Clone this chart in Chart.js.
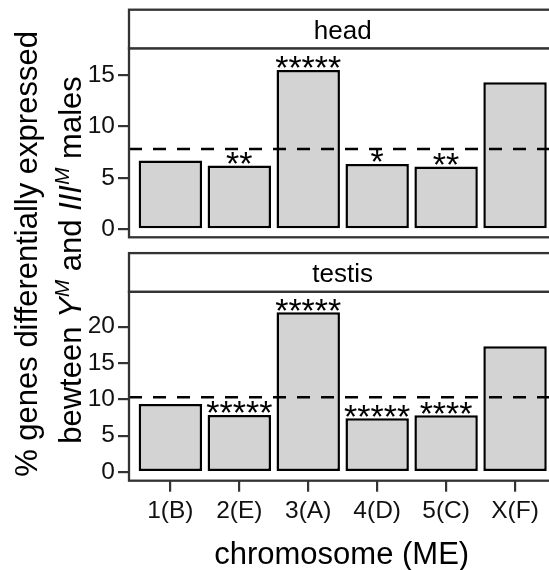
<!DOCTYPE html>
<html><head><meta charset="utf-8">
<script src="https://cdn.jsdelivr.net/npm/chart.js@4"></script>
<style>
html,body{margin:0;padding:0;overflow:hidden;background:#fff;width:549px;height:570px}
canvas{position:absolute;left:0;top:0}
</style></head><body>
<canvas id="head" width="570" height="570"></canvas>
<canvas id="testis" width="570" height="570"></canvas>
<script>
const categories = ['1(B)', '2(E)', '3(A)', '4(D)', '5(C)', 'X(F)'];
const headValues = [6.7, 6.2, 15.5, 6.35, 6.1, 14.3];
const testisValues = [9.35, 7.85, 22.0, 7.4, 7.8, 17.3];
const headStars = ['', '**', '*****', '*', '**', ''];
const testisStars = ['', '*****', '*****', '*****', '****', ''];
const headMean = 7.8;
const testisMean = 10.3;
const headTicks = [0, 5, 10, 15];
const testisTicks = [0, 5, 10, 15, 20];
const panelNames = ['head', 'testis'];
const xTitle = 'chromosome (ME)';
const yTitleLine1 = '% genes differentially expressed';
const yTitleLine2 = [['bewteen ', 'n'], ['Y', 'i'], ['M', 's'], [' and ', 'n'], ['III', 'i'], ['M', 's'], [' males', 'n']];

const FONT = '"Liberation Sans", Arial, Helvetica, sans-serif';
const W = 570, H = 570;
const PANEL_LEFT = 129, PANEL_RIGHT = 556.4;

const panelPlugin = {
  id: 'panel',
  afterDatasetsDraw(chart, args, opts) {
    const ctx = chart.ctx, a = chart.chartArea, y = chart.scales.y;
    ctx.save();
    const py = y.getPixelForValue(opts.mean);
    ctx.strokeStyle = '#000'; ctx.lineWidth = 2.5; ctx.setLineDash([13, 11]);
    ctx.beginPath(); ctx.moveTo(a.left, py); ctx.lineTo(a.right, py); ctx.stroke();
    ctx.setLineDash([]);
    ctx.fillStyle = '#000'; ctx.font = '34px ' + FONT;
    ctx.textAlign = 'center'; ctx.textBaseline = 'alphabetic';
    chart.getDatasetMeta(0).data.forEach((bar, i) => {
      if (opts.stars[i]) ctx.fillText(opts.stars[i], bar.x, bar.y + 9.5);
    });
    ctx.strokeStyle = '#333'; ctx.lineWidth = 2.3;
    ctx.strokeRect(a.left, a.top, a.right - a.left, a.bottom - a.top);
    const sh = opts.stripHeight, st = a.top - sh;
    ctx.fillStyle = '#fff'; ctx.fillRect(a.left, st, a.right - a.left, sh);
    ctx.strokeRect(a.left, st, a.right - a.left, sh);
    ctx.fillStyle = '#000'; ctx.font = '26px ' + FONT;
    ctx.fillText(opts.name, (a.left + a.right) / 2, a.top - 9.5);
    ctx.restore();
  }
};

const titlePlugin = {
  id: 'titles',
  afterDraw(chart) {
    const ctx = chart.ctx, a = chart.chartArea;
    ctx.save();
    ctx.fillStyle = '#000'; ctx.textBaseline = 'alphabetic';
    ctx.font = '31px ' + FONT; ctx.textAlign = 'center';
    ctx.fillText(xTitle, (a.left + a.right) / 2 - 1, 564);
    ctx.save();
    ctx.translate(37, 254); ctx.rotate(-Math.PI / 2);
    ctx.fillText(yTitleLine1, 0, 0);
    ctx.restore();
    const fonts = { n: '31px ' + FONT, i: 'italic 31px ' + FONT, s: 'italic 21px ' + FONT };
    let total = 0;
    yTitleLine2.forEach(([t, k]) => { ctx.font = fonts[k]; total += ctx.measureText(t).width; });
    ctx.save();
    ctx.translate(81, 260); ctx.rotate(-Math.PI / 2);
    ctx.textAlign = 'left';
    let x = -total / 2;
    yTitleLine2.forEach(([t, k]) => {
      ctx.font = fonts[k];
      ctx.fillText(t, x, k === 's' ? -12 : 0);
      x += ctx.measureText(t).width;
    });
    ctx.restore();
    ctx.restore();
  }
};

function makeChart(id, values, ticks, yMin, yMax, panelOpts, isBottom, padTop, padBottom) {
  const tickFont = { family: FONT, size: 24.5 };
  const gridOpts = { drawOnChartArea: false, drawTicks: true, tickLength: 11, color: '#333', lineWidth: 2.2, offset: false };
  const xScale = {
    type: 'linear', min: -0.6, max: 5.6, display: isBottom, offset: false,
    afterBuildTicks: s => { s.ticks = categories.map((c, i) => ({ value: i })); },
    ticks: { callback: v => categories[v], font: tickFont, color: '#111', padding: 5, maxRotation: 0, autoSkip: false },
    grid: gridOpts, border: { display: false }
  };
  if (isBottom) xScale.afterFit = s => { s.height = H - 480.7; };
  return new Chart(document.getElementById(id), {
    type: 'bar',
    data: {
      datasets: [{
        data: values.map((v, i) => ({ x: i, y: v })),
        backgroundColor: '#D3D3D3', borderColor: '#000', borderWidth: 2.5,
        borderSkipped: false, categoryPercentage: 1, barPercentage: 0.92
      }]
    },
    options: {
      responsive: false, animation: false, devicePixelRatio: 1,
      layout: { padding: { top: padTop, bottom: padBottom, left: 0, right: W - PANEL_RIGHT } },
      plugins: { legend: { display: false }, tooltip: { enabled: false }, panel: panelOpts },
      scales: {
        x: xScale,
        y: {
          type: 'linear', min: yMin, max: yMax,
          afterBuildTicks: s => { s.ticks = ticks.map(v => ({ value: v })); },
          afterFit: s => { s.width = PANEL_LEFT; },
          ticks: { font: tickFont, color: '#111', padding: 3 },
          grid: gridOpts, border: { display: false }
        }
      }
    },
    plugins: isBottom ? [panelPlugin, titlePlugin] : [panelPlugin]
  });
}

makeChart('head', headValues, headTicks, -0.78, 17.6,
  { mean: headMean, stars: headStars, name: panelNames[0], stripHeight: 38.6 }, false, 48.3, H - 237.3);
makeChart('testis', testisValues, testisTicks, -1.2, 24.82,
  { mean: testisMean, stars: testisStars, name: panelNames[1], stripHeight: 38.6 }, true, 291.7, 0);
</script>
</body></html>
